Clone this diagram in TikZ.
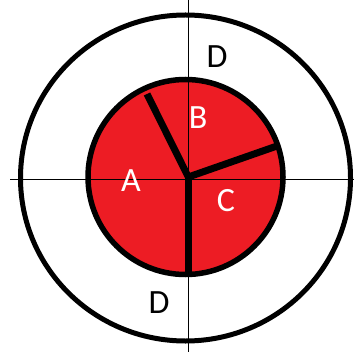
\documentclass[tikz,border=0pt]{standalone}
\usepackage{fontspec}
\setmainfont{Carlito}
\definecolor{paintred}{HTML}{ED1C24}
\begin{document}
\begin{tikzpicture}[x=1pt,y=-1pt,
  ring/.style={draw=black,line width=5pt},
  axis/.style={draw=black,line width=1pt},
  divider/.style={draw=black,line width=7pt},
  whitelbl/.style={text=white,font=\fontsize{34}{38}\selectfont,inner sep=0pt},
  blacklbl/.style={text=black,font=\fontsize{34}{38}\selectfont,inner sep=0pt}]
\useasboundingbox (0,0) rectangle (354,355);
\coordinate (ctr) at (185.5,178);
\coordinate (icenter) at (185.5,177);
% outer circle
\draw[ring] (ctr) ellipse [x radius=165, y radius=163];
% inner red disc
\fill[paintred] (icenter) circle [radius=97.5];
% axes
\coordinate (hl) at (10,179.5);
\coordinate (hr) at (354,179.5);
\coordinate (vt) at (188.3,0);
\coordinate (vb) at (188.3,352);
\draw[axis] (hl) -- (hr);
\draw[axis] (vt) -- (vb);
% inner circle border
\draw[ring,line width=5.5pt] (icenter) circle [radius=97.5];
% dividers
\coordinate (hub) at (188.3,177);
\coordinate (endA) at (147,94);
\coordinate (endB) at (277,146);
\coordinate (endC) at (188.3,273);
\draw[divider] (endA) -- (hub) -- (endB);
\draw[divider] (hub) -- (endC);
% labels
\node[whitelbl] (lA) at (131,181) {A};
\node[whitelbl] (lB) at (198,118) {B};
\node[whitelbl] (lC) at (226,201) {C};
\node[blacklbl] (lD1) at (217,57) {D};
\node[blacklbl] (lD2) at (159,303) {D};
\end{tikzpicture}
\end{document}
